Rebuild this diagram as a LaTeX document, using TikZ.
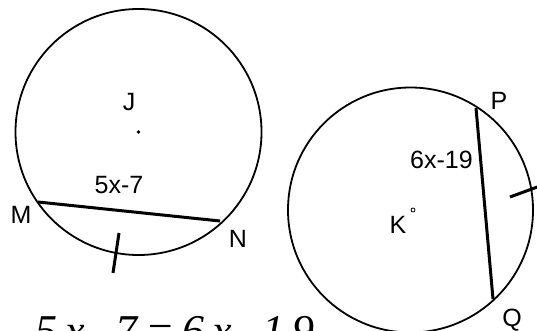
\documentclass[tikz,border=0pt]{standalone}
\usepackage{fontspec}
\setmainfont{Liberation Sans}
\newfontfamily\handfont[LetterSpace=18]{Liberation Serif}
\begin{document}
\begin{tikzpicture}[x=1pt,y=-1pt,
  circ/.style={line width=1.8pt},
  chord/.style={line width=3pt},
  tickmark/.style={line width=3pt},
  lbl/.style={font=\fontsize{25}{28}\selectfont, inner sep=0pt},
  hand/.style={font={\handfont\itshape\fontsize{44}{48}\selectfont}, inner sep=0pt}]
\useasboundingbox (0,0) rectangle (537,331);
% circle J
\coordinate (J) at (138.5,132);
\draw[circ] (J) circle[radius=123pt];
\fill (J) circle[radius=1.8pt];
\coordinate (M) at (38,202);
\coordinate (N) at (220,221);
\draw[chord] (M) -- (N);
\coordinate (t1a) at (119,233);
\coordinate (t1b) at (113,273);
\draw[tickmark] (t1a) -- (t1b);
% circle K
\coordinate (K) at (410.5,210);
\draw[circ] (K) circle[radius=122.5pt];
\draw[line width=0.8pt, fill=white] (413,210) circle[radius=2pt];
\coordinate (P) at (476,108);
\coordinate (Q) at (493,299);
\draw[chord] (P) -- (Q);
\coordinate (t2a) at (510,197);
\coordinate (t2b) at (540,186);
\draw[tickmark] (t2a) -- (t2b);
% labels
\node[lbl] (Jl) at (129,102) {J};
\node[lbl] (eqa) at (119,185) {5x-7};
\node[lbl] (Ml) at (21,215) {M};
\node[lbl] (Nl) at (238,239) {N};
\node[lbl] (Kl) at (398,225) {K};
\node[lbl] (Pl) at (499,101) {P};
\node[lbl] (Ql) at (512,320) {Q};
\node[lbl] (eqb) at (441.5,160) {6x-19};
% handwritten work
\node[hand, anchor=base west] (work) at (35,345) {5x-7=6x-19};
\end{tikzpicture}
\end{document}
